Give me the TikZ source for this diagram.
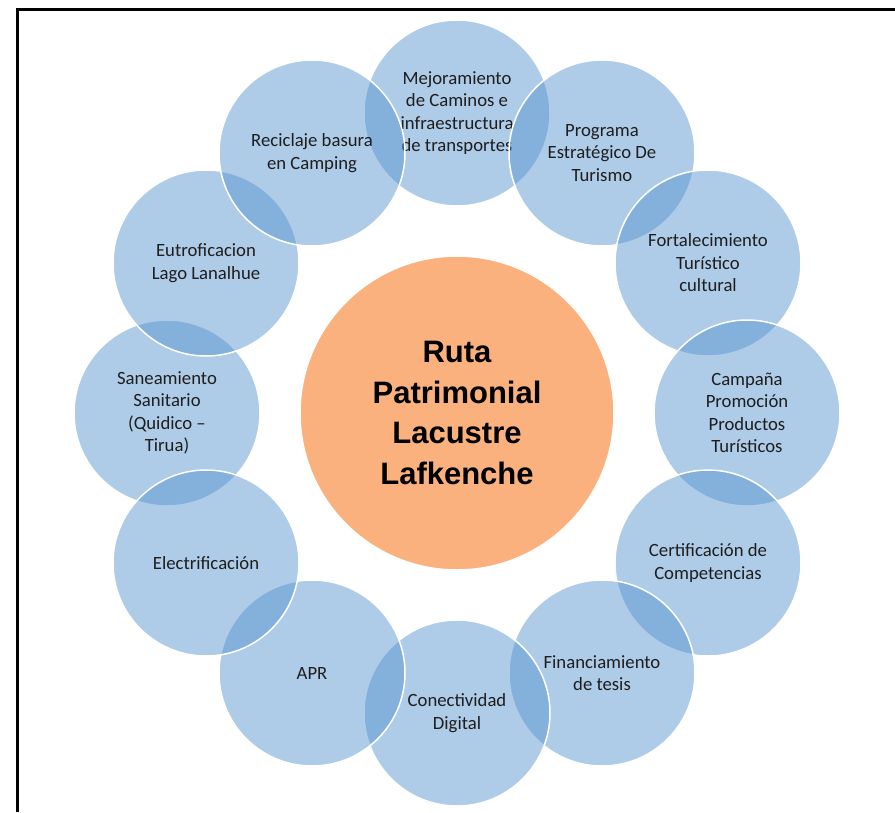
\documentclass[tikz,border=0pt]{standalone}
\usepackage{fontspec}
\setmainfont{Carlito}
\newfontfamily\titulofont{Liberation Sans}
\definecolor{celeste}{RGB}{87,147,207}
\definecolor{naranjo}{RGB}{251,177,126}
\definecolor{letra}{RGB}{30,30,30}
\begin{document}
\begin{tikzpicture}[x=1pt,y=-1pt,
    burbuja/.style={circle,draw=white,line width=1.5pt,fill=celeste,fill opacity=0.48,
      text opacity=1,text=letra,minimum size=186pt,inner sep=0pt,align=center,
      font=\fontsize{18.7}{22.5}\selectfont},
    nucleo/.style={circle,draw=white,line width=1.5pt,fill=naranjo,minimum size=314pt,
      inner sep=0pt,align=center,font=\titulofont\bfseries\fontsize{31}{40.5}\selectfont}]
  \useasboundingbox (0,0) rectangle (895,812);
  \fill[white] (0,0) rectangle (895,812);
  % marco
  \coordinate (marcoA) at (895,9);
  \coordinate (marcoB) at (17,9);
  \coordinate (marcoC) at (17,812);
  \draw[line width=3pt] (marcoA) -- (marcoB) -- (marcoC);
  % centro
  \node[nucleo] (ruta) at (457,413) {Ruta\\Patrimonial\\Lacustre\\Lafkenche};
  % anillo de burbujas
  \node[burbuja] (caminos) at (457,113) {Mejoramiento\\de Caminos e\\infraestructura\\de transportes};
  \node[burbuja] (programa) at (602,153) {Programa\\Estratégico De\\Turismo};
  \node[burbuja] (fortalec) at (708,263) {Fortalecimiento\\Turístico\\cultural};
  \node[burbuja] (campana) at (747,413) {Campaña\\Promoción\\Productos\\Turísticos};
  \node[burbuja] (certif) at (708,563) {Certificación de\\Competencias};
  \node[burbuja] (financ) at (602,673) {Financiamiento\\de tesis};
  \node[burbuja] (conect) at (457,713) {Conectividad\\Digital};
  \node[burbuja] (apr) at (312,673) {APR};
  \node[burbuja] (saneam) at (167,413) {Saneamiento\\Sanitario\\(Quidico –\\Tirua)};
  \node[burbuja] (electr) at (206,563) {Electrificación};
  \node[burbuja] (eutrof) at (206,263) {Eutroficacion\\Lago Lanalhue};
  \node[burbuja] (recicla) at (312,153) {Reciclaje basura\\en Camping};
\end{tikzpicture}
\end{document}
